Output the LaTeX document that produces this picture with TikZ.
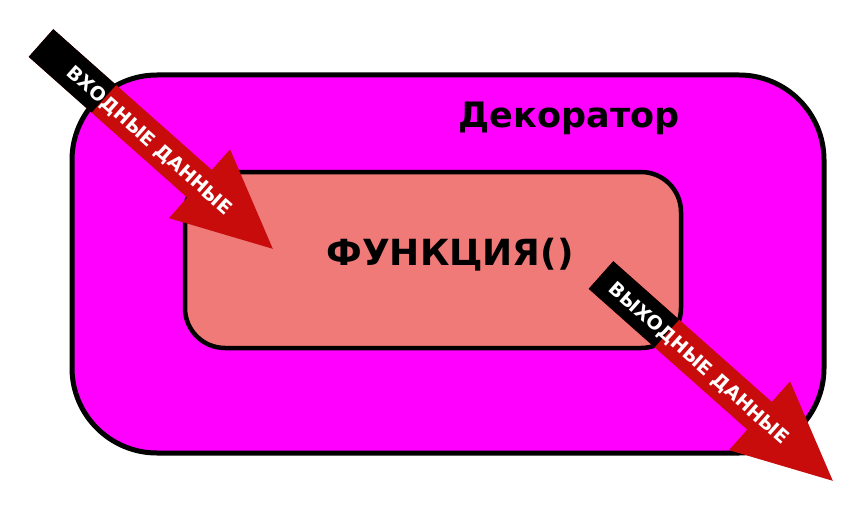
\documentclass[tikz,border=0pt]{standalone}
\usepackage{fontspec}
\setmainfont{DejaVu Sans}
\usepackage{tikz}
\usetikzlibrary{positioning}

\definecolor{dekofarbe}{RGB}{255,0,255}
\definecolor{funkfarbe}{RGB}{240,122,120}
\definecolor{pfeilrot}{RGB}{200,12,12}

\begin{document}
\begin{tikzpicture}[%
x={(1pt,0pt)},
y={(0pt,-1pt)},
rahmen/.style={draw=black,line width=5pt},
titel/.style={anchor=base,font=\bfseries\fontsize{36}{42}\selectfont},
pfeiltext/.style={anchor=base,text=white,transform shape,font=\bfseries\fontsize{19}{23}\selectfont},
]
\useasboundingbox[fill=white] (0,0) rectangle (853,508);

\coordinate (D1) at (72,75);
\coordinate (D2) at (824,453);
\coordinate (F1) at (185,172);
\coordinate (F2) at (681,348);

%Rahmen
\path[rahmen,fill=dekofarbe,rounded corners=85pt] (D1) rectangle (D2);
\path[rahmen,line width=4.5pt,fill=funkfarbe,rounded corners=40pt] (F1) rectangle (F2);

%Texte
\node[titel,font=\bfseries\fontsize{35}{41}\selectfont](deko) at (569,128){Декоратор};
\node[titel](funk) at (450,265){ФУНКЦИЯ()};

%Pfeile
\foreach \px/\py/\s/\t/\lbl in {41/43/84/146/ВХОДНЫЕ ДАННЫЕ, 601/275/88/132/ВЫХОДНЫЕ ДАННЫЕ}{
\begin{scope}[shift={(\px,\py)},rotate=-41.6]
\fill[pfeilrot] (0,-18.5) -- (212,-18.5) -- (212,-46) -- (310,0)
  -- (212,46) -- (212,18.5) -- (0,18.5) -- cycle;
\fill[black] (0,-18.5) rectangle (\s,18.5);
\node[pfeiltext](pfeil\px) at (\t,7){\lbl};
\end{scope}
}

\end{tikzpicture}
\end{document}
